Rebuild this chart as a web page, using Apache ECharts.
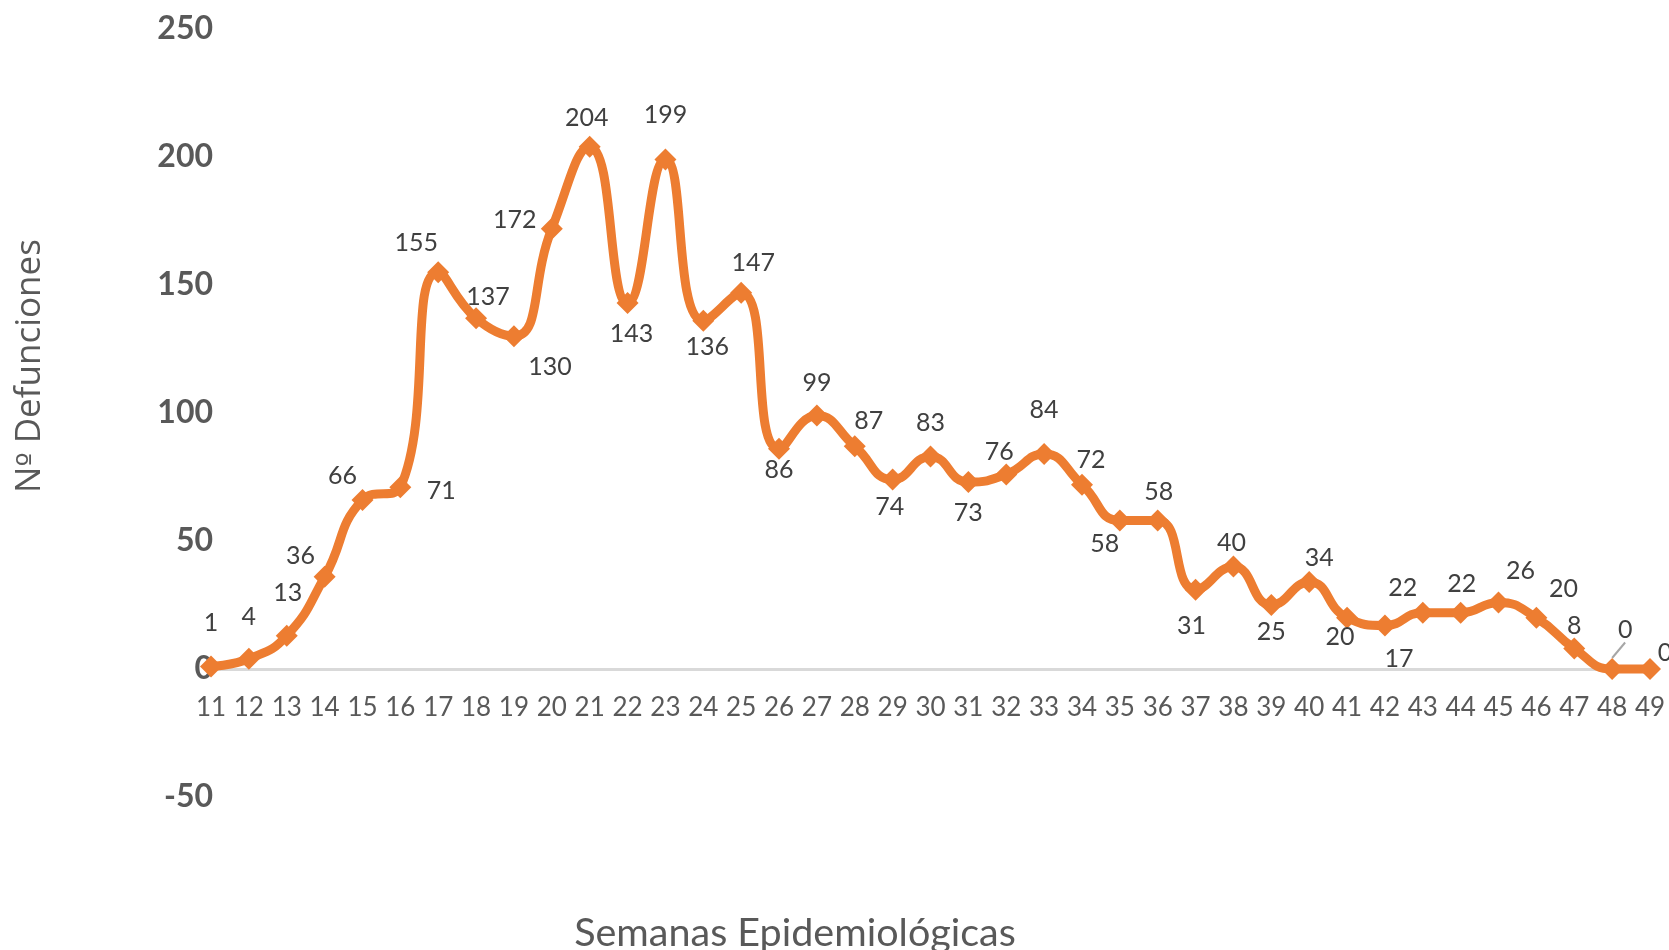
<!DOCTYPE html>
<html>
<head>
<meta charset="utf-8">
<script src="https://cdn.jsdelivr.net/npm/echarts@6/dist/echarts.min.js"></script>
<style>html,body{margin:0;padding:0;background:#fff;}#c{width:1669px;height:950px;}</style>
</head>
<body>
<div id="c"></div>
<script>
// Data
const weeks = ['11','12','13','14','15','16','17','18','19','20','21','22','23','24','25','26','27','28','29','30','31','32','33','34','35','36','37','38','39','40','41','42','43','44','45','46','47','48','49'];
const deaths = [1,4,13,36,66,71,155,137,130,172,204,143,199,136,147,86,99,87,74,83,73,76,84,72,58,58,31,40,25,34,20,17,22,22,26,20,8,0,0];
const yTicks = [-50,0,50,100,150,200,250];
const yTitle = 'Nº Defunciones';
const xTitle = 'Semanas Epidemiológicas';

// label placement (offset of label centre from its point, px)
const labelOffsets = [
  [0,-44],[0,-42],[1,-43],[-24,-21],[-20,-24],[41,4],[-22,-29],[12,-21],[36,31],[-37,-9],
  [-3,-29],[4,31],[0,-45],[4,26],[12,-30],[0,21],[0,-33],[14,-25],[-3,27],[0,-34],
  [0,31],[-7,-23],[0,-44],[9,-25],[-15,23],[1,-29],[-4,36],[-2,-24],[0,27],[10,-24],
  [-7,19],[14,33],[-20,-25],[1,-29],[22,-32],[27,-29],[0,-23],[13,-39],[15,-16]
];

const FONT = 'Lato, "Open Sans", sans-serif';
const chart = echarts.init(document.getElementById('c'), null, {renderer:'canvas'});

const seriesData = deaths.map((v,i)=> i === 37 ? ({
  value: v,
  labelLine: { show: true, lineStyle: { color: '#a6a6a6', width: 2 } }
}) : v);

const yTitleRich = yTitle.split('º').join('{o|º}');

chart.setOption({
  animation: false,
  backgroundColor: '#ffffff',
  grid: { left: 211, right: 19, top: 29, bottom: 153, containLabel: false },
  xAxis: {
    type: 'category',
    data: weeks,
    boundaryGap: false,
    axisLine: { show: true, onZero: true, lineStyle: { color: '#d9d9d9', width: 3 } },
    axisTick: { show: false },
    axisLabel: { color: '#595959', fontSize: 26, fontFamily: FONT, margin: -102, interval: 0 },
    splitLine: { show: false }
  },
  yAxis: {
    type: 'value',
    min: yTicks[0],
    max: yTicks[yTicks.length-1],
    interval: 50,
    axisLine: { show: false },
    axisTick: { show: false },
    splitLine: { show: false },
    axisLabel: { color: '#595959', fontSize: 32, fontWeight: 'bold', fontFamily: FONT, margin: -2 }
  },
  graphic: [
    { type: 'text', x: 30, y: 366, rotation: Math.PI/2,
      style: { text: yTitleRich, fill: '#595959', fontSize: 35, fontFamily: '"Open Sans", sans-serif',
        align: 'center', verticalAlign: 'middle',
        rich: { o: { fontSize: 30, fontFamily: '"DejaVu Sans", sans-serif', fill: '#595959' } } } },
    { type: 'text', x: 795, y: 933,
      style: { text: xTitle, fill: '#595959', font: '39.5px ' + FONT, textAlign: 'center', textVerticalAlign: 'middle' } }
  ],
  series: [{
    type: 'line',
    data: seriesData,
    smooth: 0.5,
    symbol: 'diamond',
    symbolSize: 22,
    showAllSymbol: true,
    lineStyle: { color: '#ed7d31', width: 9 },
    itemStyle: { color: '#ed7d31' },
    label: {
      show: true,
      position: 'inside',
      color: '#404040',
      fontSize: 25,
      fontFamily: FONT
    },
    labelLayout: function (p) {
      const o = labelOffsets[p.dataIndex] || [0, 0];
      return { dx: o[0], dy: o[1], hideOverlap: false };
    }
  }]
});
</script>
</body>
</html>
